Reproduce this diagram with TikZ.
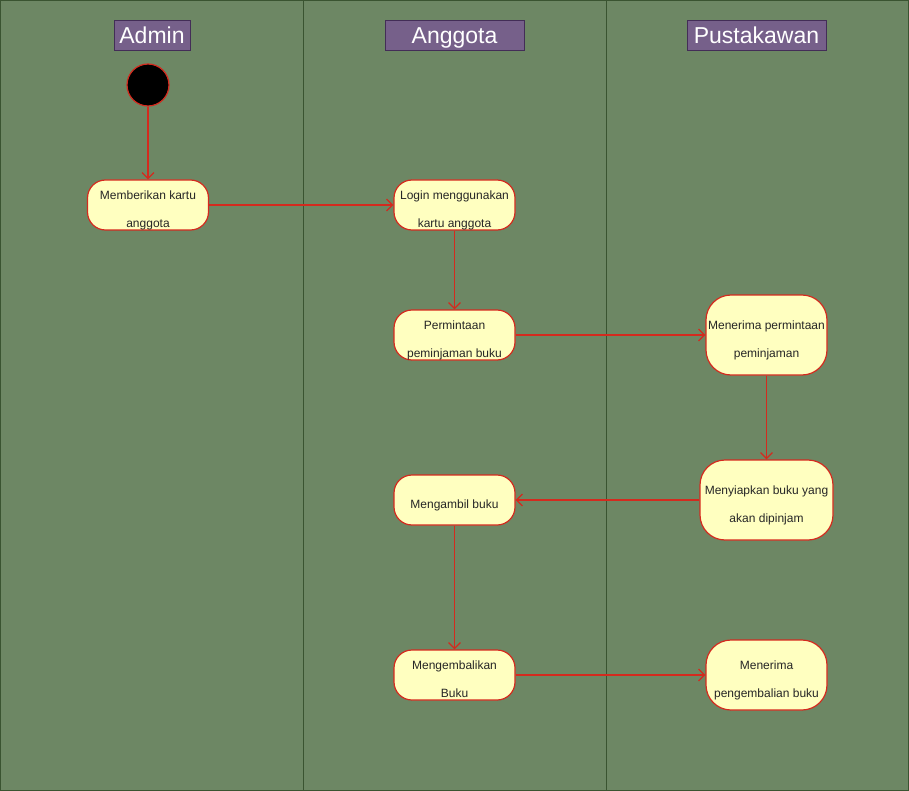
\documentclass[tikz,border=0pt]{standalone}
\usepackage{fontspec}
\setmainfont{Liberation Sans}
\usetikzlibrary{arrows.meta, positioning}
\usepackage{xcolor}

\definecolor{laneGreen}{HTML}{6D8764}
\definecolor{laneLine}{HTML}{3A5431}
\definecolor{headFill}{HTML}{76608A}
\definecolor{headLine}{HTML}{432D57}
\definecolor{actFill}{HTML}{FFFFC0}
\definecolor{actLine}{HTML}{D42A1E}

\begin{document}
\begin{tikzpicture}[x=1pt, y=-1pt]
    % Styles
    \tikzstyle{lane} = [draw=laneLine, fill=laneGreen, line width=1pt]
    \tikzstyle{head} = [rectangle, draw=headLine, fill=headFill, text=white, font=\fontsize{23}{26}\selectfont, minimum height=30pt, text height=16.5pt, text depth=0pt, inner sep=0pt]
    \tikzstyle{act} = [rectangle, draw=actLine, fill=actFill, text=black!85, rounded corners=18pt, align=center, minimum width=121pt, minimum height=50pt, inner sep=0pt, font=\fontsize{12}{28}\selectfont, line width=1.2pt, text height=47pt, text depth=2.5pt]
    \tikzstyle{oneline} = [act, text height=19pt]
    \tikzstyle{bigact} = [act, rounded corners=25pt, minimum height=80pt]
    \tikzstyle{start} = [circle, draw=actLine, fill=black, minimum size=42pt, inner sep=0pt, line width=1.2pt]
    \tikzstyle{line} = [draw=actLine, line width=1.2pt, -{Straight Barb[length=6pt, width=12pt]}]

    % Lanes
    \useasboundingbox (0,0) rectangle (909,791);
    \draw [lane] (0.5,0.5) rectangle (303,790.5);
    \draw [lane] (303,0.5) rectangle (606,790.5);
    \draw [lane] (606,0.5) rectangle (908.5,790.5);

    % Headers
    \node [head, minimum width=76pt] (hadmin) at (152,35) {Admin};
    \node [head, minimum width=139pt] (hanggota) at (454.5,35) {Anggota};
    \node [head, minimum width=139pt] (hpustaka) at (756.5,35) {Pustakawan};

    % Nodes
    \node [start] (init) at (148,85) {};
    \node [act] (beri) at (148,205) {Memberikan kartu\\anggota};
    \node [act] (login) at (454.5,205) {Login menggunakan\\kartu anggota};
    \node [act] (minta) at (454.5,335) {Permintaan\\peminjaman buku};
    \node [bigact] (terima) at (766.5,335) {Menerima permintaan\\peminjaman};
    \node [bigact, minimum width=133pt] (siap) at (766.5,500) {Menyiapkan buku yang\\akan dipinjam};
    \node [oneline] (ambil) at (454.5,500) {Mengambil buku};
    \node [act] (kembali) at (454.5,675) {Mengembalikan\\Buku};
    \node [bigact, minimum height=70pt] (terimakembali) at (766.5,675) {Menerima\\pengembalian buku};

    % Edges
    \path [line] (init) -- (beri);
    \path [line] (beri) -- (login);
    \path [line] (login) -- (minta);
    \path [line] (minta) -- (terima);
    \path [line] (terima) -- (siap);
    \path [line] (siap) -- (ambil);
    \path [line] (ambil) -- (kembali);
    \path [line] (kembali) -- (terimakembali);

\end{tikzpicture}
\end{document}
